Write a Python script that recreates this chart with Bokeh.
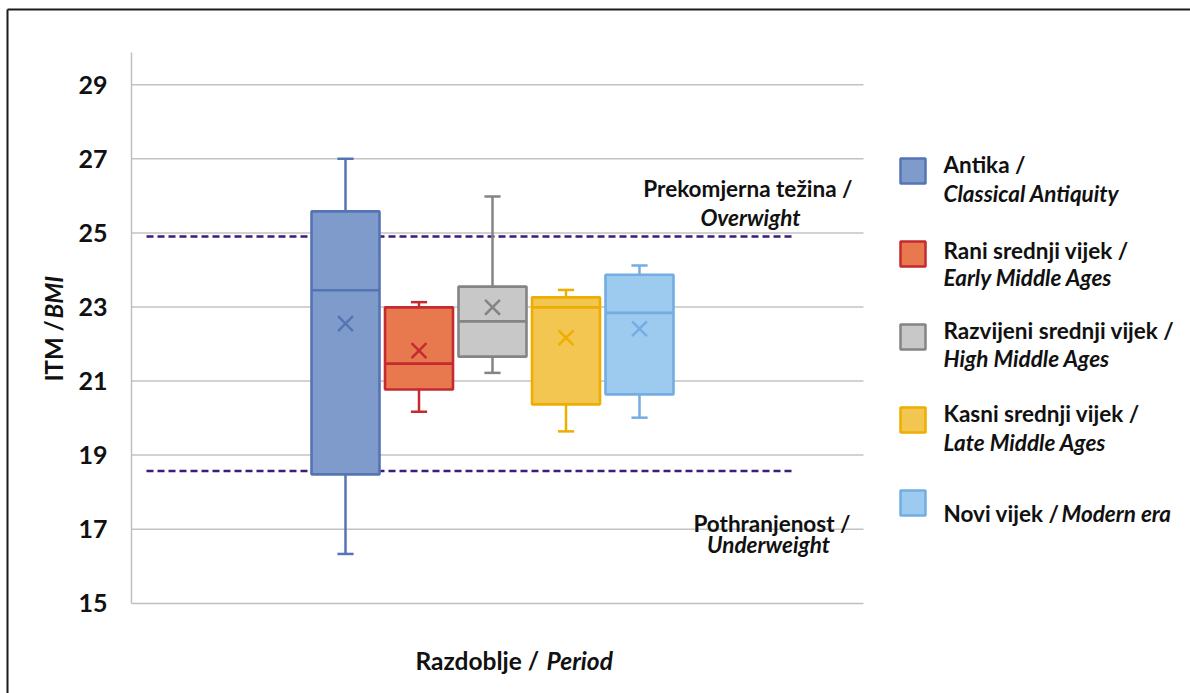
import math
from bokeh.plotting import figure
from bokeh.models import (ColumnDataSource, Range1d, Label, LinearAxis, FixedTicker)
from bokeh.embed import file_html
from bokeh.resources import INLINE

# ---------------- data ----------------
categories = ["Antika", "Rani srednji vijek", "Razvijeni srednji vijek",
              "Kasni srednji vijek", "Novi vijek"]
legend_line1 = ["Antika /", "Rani srednji vijek /", "Razvijeni srednji vijek /",
                "Kasni srednji vijek /", "Novi vijek /"]
legend_line2 = ["Classical Antiquity", "Early Middle Ages", "High Middle Ages",
                "Late Middle Ages", "Modern era"]
whisker_low = [16.33, 20.17, 21.22, 19.64, 20.01]
q1 = [18.48, 20.77, 21.66, 20.37, 20.64]
median = [23.45, 21.47, 22.61, 22.99, 22.84]
q3 = [25.58, 22.99, 23.55, 23.26, 23.87]
whisker_high = [27.00, 23.13, 25.98, 23.46, 24.12]
mean = [22.55, 21.82, 22.99, 22.17, 22.41]
overweight_bmi = 24.9
underweight_bmi = 18.57
y_ticks = [15, 17, 19, 21, 23, 25, 27, 29]
y_axis_max = 29.88

fills = ["#7f9bcb", "#e8794e", "#c8c8c8", "#f3c651", "#9dcbef"]
lines = ["#5574b4", "#c42a2f", "#848484", "#eeae00", "#74ade2"]

FONT = "Lato"
TXT = "#111111"

# ---------------- geometry (canvas = frame) ----------------
W, H = 1190, 693
PX_X0, PX_STEP = 345.0, 73.5        # pixel centre of first box, spacing
PX_Y15, PX_UNIT = 602.7, 37.03      # pixel of BMI 15, pixels per BMI unit
XS, XE = (0 - PX_X0) / PX_STEP, (W - PX_X0) / PX_STEP
YE = 15 + PX_Y15 / PX_UNIT
YS = 15 - (H - PX_Y15) / PX_UNIT


def dx(px):
    return (px - PX_X0) / PX_STEP


def dy(py):
    return 15 + (PX_Y15 - py) / PX_UNIT


PLOT_L, PLOT_R = 131, 863

xpos = list(range(len(categories)))
src = ColumnDataSource(dict(x=xpos, lo=whisker_low, q1=q1, med=median, q3=q3,
                            hi=whisker_high, mean=mean, fill=fills, line=lines))

p = figure(width=W, height=H, output_backend="svg", toolbar_location=None,
           x_range=Range1d(XS, XE), y_range=Range1d(YS, YE),
           x_axis_location=None, y_axis_location=None,
           min_border=0, min_border_left=0, min_border_right=0,
           min_border_top=0, min_border_bottom=0,
           background_fill_color="white", border_fill_color="white")
p.title.visible = False
p.outline_line_color = None
p.grid.visible = False

# y axis (fixed inside canvas)
yax = LinearAxis(fixed_location=dx(PLOT_L), bounds=(15, y_axis_max),
                 ticker=FixedTicker(ticks=y_ticks))
yax.major_tick_line_color = None
yax.minor_tick_line_color = None
yax.axis_line_color = "#bfbfbf"
yax.axis_line_width = 1.5
yax.major_label_standoff = 18
yax.major_label_text_font = FONT
yax.major_label_text_font_style = "bold"
yax.major_label_text_font_size = "25px"
yax.major_label_text_color = TXT
p.add_layout(yax, "left")

# x axis (no labels)
xax = LinearAxis(fixed_location=15, bounds=(dx(PLOT_L), dx(PLOT_R)),
                 ticker=FixedTicker(ticks=[]))
xax.major_label_text_font_size = "0px"
xax.major_tick_line_color = None
xax.minor_tick_line_color = None
xax.axis_line_color = "#bfbfbf"
xax.axis_line_width = 1.5
p.add_layout(xax, "below")

# horizontal gridlines at the y ticks
gy = y_ticks[1:]
p.segment(x0=[dx(PLOT_L)] * len(gy), x1=[dx(PLOT_R)] * len(gy), y0=gy, y1=gy,
          line_color="#c3c3c3", line_width=1.5)

# threshold dashed lines
for v in (overweight_bmi, underweight_bmi):
    p.segment(x0=dx(146), x1=dx(793), y0=v, y1=v, line_color="#3a1d78",
              line_width=2.5, line_dash="7 4")

# whiskers
p.segment(x0="x", x1="x", y0="lo", y1="q1", source=src, line_color="line", line_width=2.5)
p.segment(x0="x", x1="x", y0="q3", y1="hi", source=src, line_color="line", line_width=2.5)
cap = 0.11
p.segment(x0=[x - cap for x in xpos], x1=[x + cap for x in xpos], y0=whisker_low,
          y1=whisker_low, line_color=lines, line_width=2.5)
p.segment(x0=[x - cap for x in xpos], x1=[x + cap for x in xpos], y0=whisker_high,
          y1=whisker_high, line_color=lines, line_width=2.5)
# boxes
bw = 0.925
p.vbar(x="x", width=bw, bottom="q1", top="q3", source=src, fill_color="fill",
       line_color="line", line_width=2.6)
p.segment(x0=[x - bw / 2 for x in xpos], x1=[x + bw / 2 for x in xpos], y0=median,
          y1=median, line_color=lines, line_width=2.6)
# mean markers
p.scatter(x="x", y="mean", source=src, marker="x", size=21, line_color="line",
          line_width=2.5)


# ---------------- texts ----------------
def lab(text, px, py, size="22.5px", style="bold", align="left", angle=0.0):
    p.add_layout(Label(x=dx(px), y=dy(py), text=text, text_font=FONT,
                       text_font_size=size, text_font_style=style,
                       text_color=TXT, text_align=align,
                       text_baseline="alphabetic", angle=angle))


lab("Prekomjerna težina /", 852, 188, align="right")
lab("Overwight", 750, 217, style="bold italic", align="center")
lab("Pothranjenost /", 850, 523, align="right")
lab("Underweight", 768, 544, style="bold italic", align="center")

lab("Razdoblje /", 415, 660, size="24.5px")
lab("Period", 546, 660, size="24.5px", style="bold italic")

lab("ITM /", 53, 381, size="24px", angle=math.pi / 2)
lab("BMI", 53, 318, size="24px", style="bold italic", angle=math.pi / 2)

# legend
sw_top = [158, 241, 324, 407, 490]
base1 = [164, 250, 330, 413, 513]
base2 = [193, 277, 358, 442, None]
p.quad(left=[dx(900)] * 5, right=[dx(925)] * 5,
       top=[dy(t) for t in sw_top], bottom=[dy(t + 25) for t in sw_top],
       fill_color=fills, line_color=lines, line_width=2.5)
for i in range(len(categories)):
    lab(legend_line1[i], 943, base1[i])
    if base2[i] is None:
        lab(legend_line2[i], 1061, base1[i], style="bold italic")
    else:
        lab(legend_line2[i], 943, base2[i], style="bold italic")

# outer frame line (top and left edges visible)
p.segment(x0=[dx(7), dx(7)], x1=[dx(1200), dx(7)], y0=[dy(9), dy(9)],
          y1=[dy(9), dy(700)], line_color="#1c1c1c", line_width=2)

open("out.html", "w").write(file_html(p, INLINE))
